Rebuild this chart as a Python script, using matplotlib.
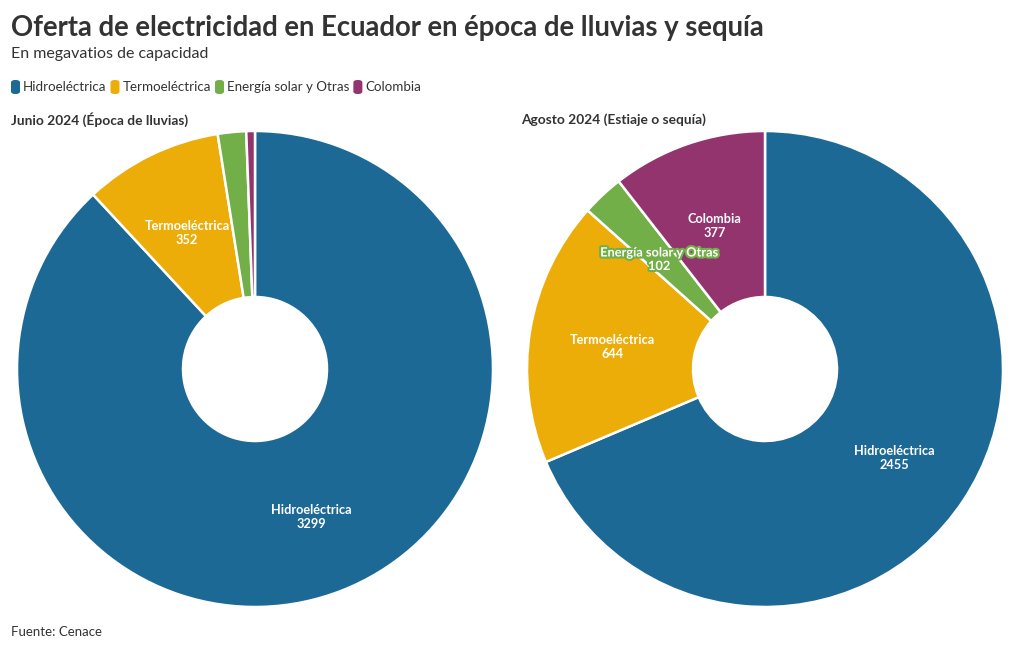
import matplotlib
matplotlib.use("Agg")
import matplotlib.pyplot as plt
import matplotlib.patheffects as pe
from matplotlib.patches import FancyBboxPatch
import numpy as np

plt.rcParams['font.family'] = ['Lato', 'DejaVu Sans']

categories = ["Hidroeléctrica", "Termoeléctrica", "Energía solar y Otras", "Colombia"]
colors = ["#1D6996", "#EDAD08", "#73AF48", "#94346E"]
junio = [3299, 352, 72, 22]
agosto = [2455, 644, 102, 377]
panel_titles = ["Junio 2024 (Época de lluvias)", "Agosto 2024 (Estiaje o sequía)"]
title = "Oferta de electricidad en Ecuador en época de lluvias y sequía"
subtitle = "En megavatios de capacidad"
source = "Fuente: Cenace"

W, H = 1020, 650
fig = plt.figure(figsize=(W / 100, H / 100), dpi=100)
TXT = "#333333"

fig.text(11 / W, 1 - 28 / H, title, fontsize=19.8, fontweight="bold", color=TXT, va="center", ha="left")
fig.text(11 / W, 1 - 54 / H, subtitle, fontsize=11.5, color=TXT, va="center", ha="left")
fig.text(11 / W, 1 - 632 / H, source, fontsize=9.5, color=TXT, va="center", ha="left")

# legend
renderer = fig.canvas.get_renderer()
x = 11
ly = 87
for cat, col in zip(categories, colors):
    p = FancyBboxPatch((x / W, (H - ly - 7) / H), 9 / W, 14 / H,
                       boxstyle="round,pad=0,rounding_size=0.004", transform=fig.transFigure,
                       facecolor=col, edgecolor="none")
    fig.add_artist(p)
    t = fig.text((x + 12) / W, 1 - ly / H, cat, fontsize=9.6, color=TXT, va="center", ha="left")
    bb = t.get_window_extent(renderer)
    x = bb.x1 + 4

R = 238
centers = [(255, 369), (765, 369)]
hole = 72 / 238
for (cx, cy), vals, ptitle in zip(centers, [junio, agosto], panel_titles):
    ax = fig.add_axes([(cx - R) / W, (H - cy - R) / H, 2 * R / W, 2 * R / H])
    wedges, _ = ax.pie(vals, colors=colors, startangle=90, counterclock=False, radius=1,
                       wedgeprops=dict(width=1 - hole, edgecolor="white", linewidth=1.8))
    ax.set_xlim(-1.0, 1.0)
    ax.set_ylim(-1.0, 1.0)
    ax.set_aspect("equal")
    ax.axis("off")
    total = sum(vals)
    rl = (1 + hole) / 2
    for w, cat, v, col in zip(wedges, categories, vals, colors):
        if v / total < 0.025:
            continue
        ang = np.deg2rad((w.theta1 + w.theta2) / 2)
        tx, ty = rl * np.cos(ang), rl * np.sin(ang) - 3.5 / R
        t = ax.text(tx, ty, f"{cat}\n{v}", ha="center", va="center", fontsize=9.2,
                    fontweight="bold", color="white", linespacing=1.15)
        if v / total < 0.05:
            t.set_path_effects([pe.withStroke(linewidth=3, foreground=col)])
    fig.text((cx - 244) / W, 1 - 120 / H, ptitle, fontsize=9.9, fontweight="bold", color=TXT,
             va="center", ha="left")

fig.savefig("out.png", dpi=100)
